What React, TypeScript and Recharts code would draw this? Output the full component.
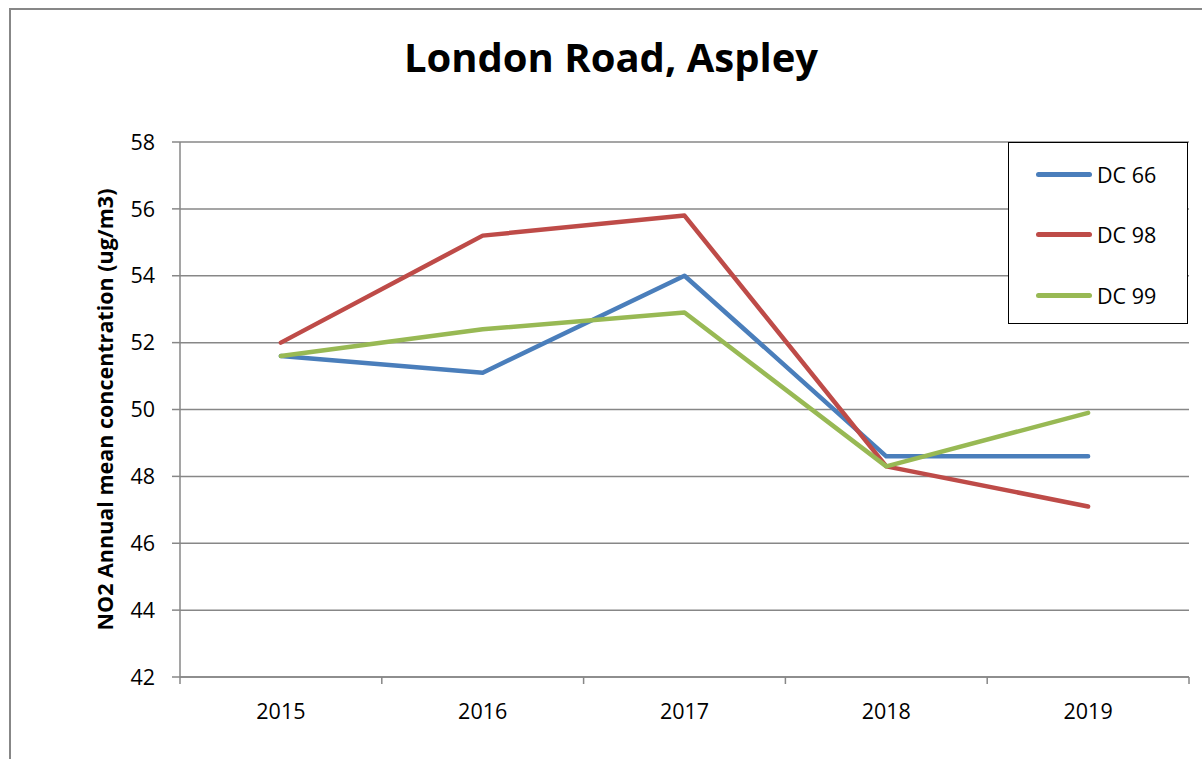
import { LineChart, Line, XAxis, YAxis, CartesianGrid, Legend } from "recharts";

const YEARS = ["2015", "2016", "2017", "2018", "2019"];
const DC66 = [51.6, 51.1, 54.0, 48.6, 48.6];
const DC98 = [52.0, 55.2, 55.8, 48.3, 47.1];
const DC99 = [51.6, 52.4, 52.9, 48.3, 49.9];
const Y_TICKS = [42, 44, 46, 48, 50, 52, 54, 56, 58];

const SERIES = [
  { key: "dc66", name: "DC 66", color: "#4a7ebb" },
  { key: "dc98", name: "DC 98", color: "#be4b48" },
  { key: "dc99", name: "DC 99", color: "#98b954" },
];

const data = YEARS.map((year, i) => ({
  year,
  dc66: DC66[i],
  dc98: DC98[i],
  dc99: DC99[i],
}));

const W = 1202;
const H = 759;
const MARGIN = { top: 142, right: 13, bottom: 32, left: 0 };
const Y_AXIS_W = 180;
const BAND = (W - MARGIN.left - MARGIN.right - Y_AXIS_W) / YEARS.length;
const GRID = "#878787";
const FONT = "'Open Sans', 'Liberation Sans', sans-serif";

function XTick(props: any) {
  const { x, y, payload, index } = props;
  return (
    <g>
      <line x1={x - BAND / 2} x2={x - BAND / 2} y1={y} y2={y + 7} stroke={GRID} strokeWidth={1.5} />
      {index === YEARS.length - 1 && (
        <line x1={x + BAND / 2} x2={x + BAND / 2} y1={y} y2={y + 7} stroke={GRID} strokeWidth={1.5} />
      )}
      <text x={x} y={y + 42} textAnchor="middle" fontSize={21.5} fill="#000" fontFamily={FONT}>
        {payload.value}
      </text>
    </g>
  );
}

function LegendBox() {
  return (
    <div
      style={{
        width: 178,
        height: 180,
        border: "1.5px solid #000",
        background: "#fff",
        position: "relative",
        fontFamily: FONT,
        fontSize: 21.5,
      }}
    >
      {SERIES.map((s, i) => (
        <div
          key={s.key}
          style={{
            position: "absolute",
            left: 27,
            top: 31 + i * 60.5 - 14,
            height: 28,
            display: "flex",
            alignItems: "center",
          }}
        >
          <span
            style={{
              display: "inline-block",
              width: 56,
              height: 5,
              borderRadius: 3,
              background: s.color,
              marginRight: 5,
            }}
          />
          <span style={{ color: "#000" }}>{s.name}</span>
        </div>
      ))}
    </div>
  );
}

export default function App() {
  return (
    <div
      style={{
        position: "absolute",
        left: 0,
        top: 0,
        width: W,
        height: H,
        overflow: "hidden",
        background: "#fff",
      }}
    >
      <div
        style={{
          position: "absolute",
          left: 9,
          top: 8,
          width: 1400,
          height: 1000,
          border: `2px solid ${GRID}`,
        }}
      />
      <LineChart width={W} height={H} data={data} margin={MARGIN}>
        <text
          x={611}
          y={72}
          textAnchor="middle"
          fontSize={40}
          fontWeight="bold"
          fontFamily={FONT}
          fill="#000"
        >
          London Road, Aspley
        </text>
        <CartesianGrid vertical={false} stroke={GRID} strokeWidth={1.5} />
        <XAxis
          dataKey="year"
          height={50}
          padding={{ left: BAND / 2, right: BAND / 2 }}
          axisLine={{ stroke: GRID, strokeWidth: 1.5 }}
          tickLine={false}
          tickSize={0}
          tickMargin={0}
          interval={0}
          tick={<XTick />}
        />
        <YAxis
          width={Y_AXIS_W}
          domain={[42, 58]}
          ticks={Y_TICKS}
          interval={0}
          axisLine={{ stroke: GRID, strokeWidth: 1.5 }}
          tickLine={{ stroke: GRID, strokeWidth: 1.5 }}
          tickSize={8}
          tickMargin={17}
          tick={{ fill: "#000", fontSize: 21.5, fontFamily: FONT }}
          label={{
            value: "NO2 Annual mean concentration (ug/m3)",
            angle: -90,
            position: "center",
            dx: 15,
            fill: "#000",
            fontSize: 21.5,
            fontWeight: "bold",
            fontFamily: FONT,
          }}
        />
        <Legend
          layout="vertical"
          align="center"
          verticalAlign="middle"
          wrapperStyle={{ left: 1008, top: 142, width: 181, height: 183 }}
          content={() => <LegendBox />}
        />
        {SERIES.map((s) => (
          <Line
            key={s.key}
            type="linear"
            dataKey={s.key}
            name={s.name}
            stroke={s.color}
            strokeWidth={4.5}
            strokeLinecap="round"
            strokeLinejoin="round"
            dot={false}
            activeDot={false}
            isAnimationActive={false}
          />
        ))}
      </LineChart>
    </div>
  );
}
